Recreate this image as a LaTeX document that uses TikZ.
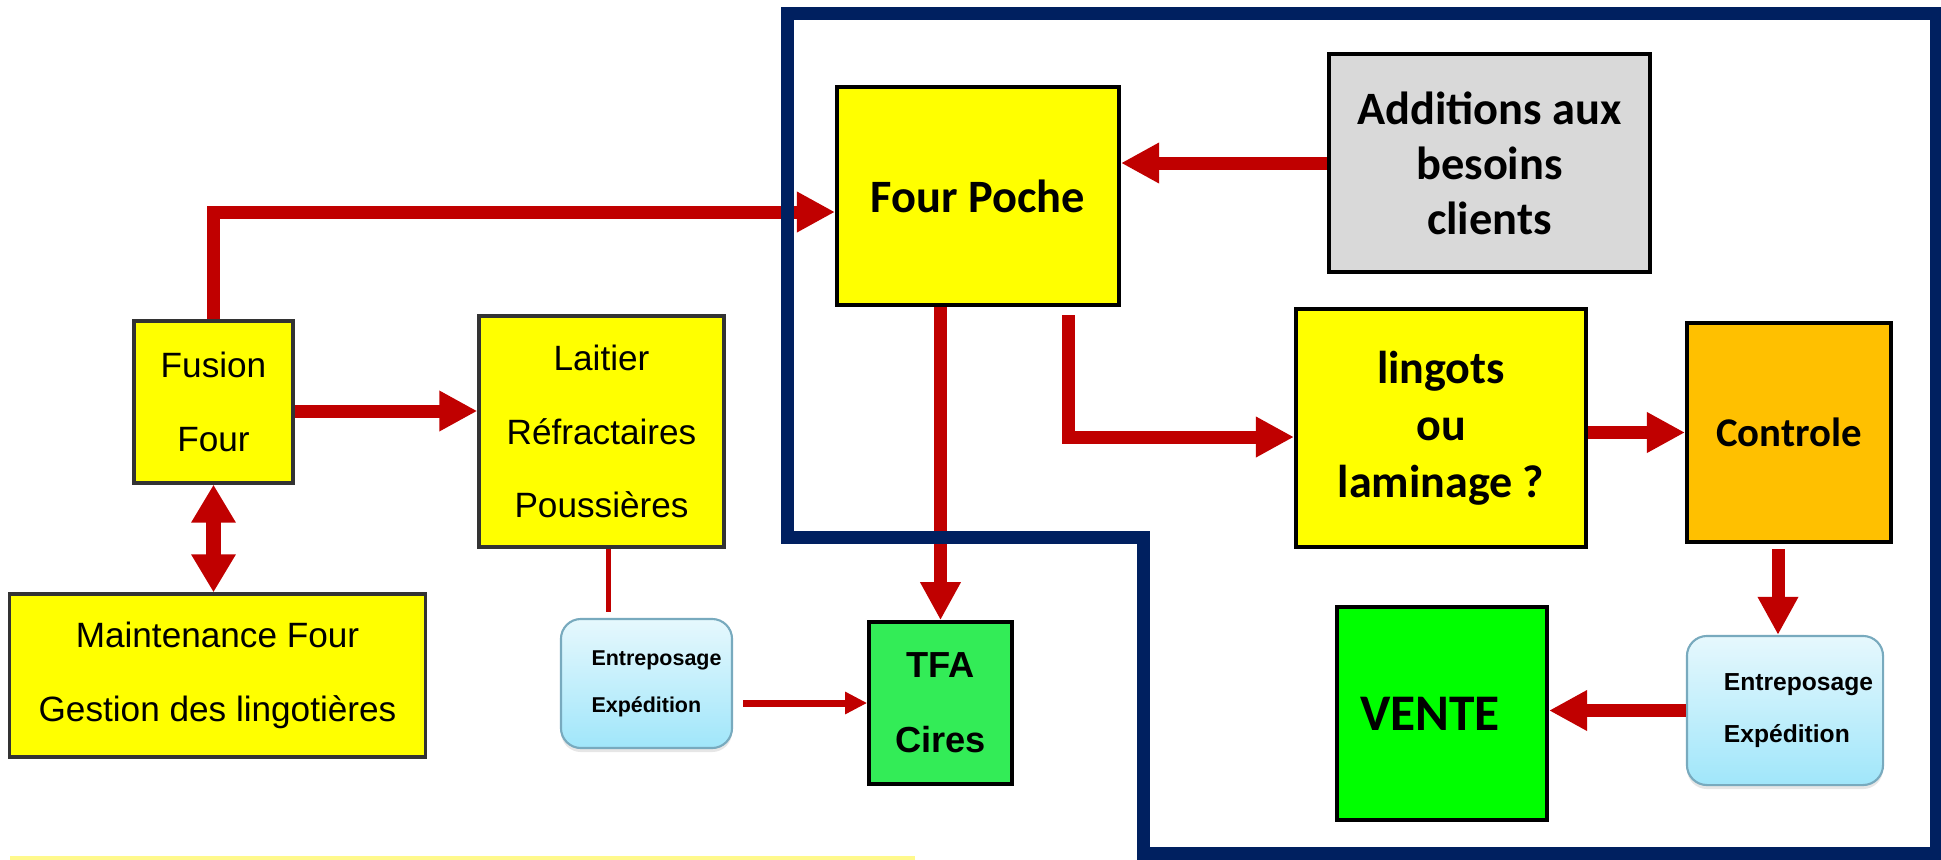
\documentclass[tikz,border=0pt]{standalone}
\usepackage{fontspec}
\setmainfont{Liberation Sans}
\newfontfamily\calib{Carlito}
\usetikzlibrary{arrows.meta,calc,shadows}
\definecolor{navyframe}{RGB}{0,32,96}
\definecolor{flowred}{RGB}{192,0,0}
\definecolor{boxyellow}{RGB}{255,255,0}
\definecolor{boxgrey}{RGB}{217,217,217}
\definecolor{boxorange}{RGB}{255,192,0}
\definecolor{ventegreen}{RGB}{0,255,0}
\definecolor{tfagreen}{RGB}{51,236,87}
\definecolor{storetop}{RGB}{230,248,253}
\definecolor{storebot}{RGB}{160,230,250}
\definecolor{storeline}{RGB}{120,170,190}

\begin{document}
\begin{tikzpicture}[x=0.01cm,y=-0.01cm,
	oldbox/.style={draw=black!80,line width=0.9pt,fill=boxyellow,align=center,inner sep=0pt,font=\fontsize{10}{21}\selectfont},
	newbox/.style={draw=black,line width=1.1pt,align=center,inner sep=0pt,font=\calib\bfseries\fontsize{13.2}{15.6}\selectfont},
	storebox/.style={draw=storeline,line width=0.6pt,rounded corners=0.2cm,top color=storetop,bottom color=storebot,align=left,inner sep=0pt,drop shadow={shadow xshift=0pt,shadow yshift=-0.04cm,opacity=0.2}},
	bigarrow/.style={color=flowred,line width=0.13cm,-{Triangle[length=0.38cm,width=0.38cm]}},
	dblarrow/.style={color=flowred,line width=0.15cm,{Triangle[length=0.38cm,width=0.42cm]}-{Triangle[length=0.38cm,width=0.42cm]}},
	thinarrow/.style={color=flowred,line width=0.07cm,-{Triangle[length=0.22cm,width=0.21cm]}}]
	\useasboundingbox (0,0) rectangle (1941,860);

	\node (fusion) [oldbox,minimum width=1.59cm,minimum height=1.62cm] at (213.5,402) {Fusion\\Four};
	\node (laitier) [oldbox,minimum width=2.45cm,minimum height=2.31cm] at (601.5,431.5) {Laitier\\Réfractaires\\Poussières};
	\node (maint) [oldbox,minimum width=4.15cm,minimum height=1.63cm] at (217.5,675.5) {Maintenance Four\\Gestion des lingotières};
	\node (entr1) [storebox,minimum width=1.71cm,minimum height=1.29cm,font=\bfseries\fontsize{6.1}{13.4}\selectfont] at (646.5,683.5) {\hspace*{0.2cm}Entreposage\\\hspace*{0.2cm}Expédition};
	\node (tfa) [draw=black,line width=1pt,fill=tfagreen,minimum width=1.43cm,minimum height=1.62cm,align=center,inner sep=0pt,font=\bfseries\fontsize{10.3}{21.3}\selectfont] at (940.5,703) {TFA\\Cires};

	\node (poche) [newbox,fill=boxyellow,minimum width=2.82cm,minimum height=2.18cm] at (978,196) {Four Poche};
	\node (additions) [newbox,fill=boxgrey,minimum width=3.21cm,minimum height=2.18cm] at (1489.5,163) {Additions aux\\besoins\\clients};
	\node (lingots) [newbox,fill=boxyellow,minimum width=2.9cm,minimum height=2.38cm,font=\calib\bfseries\fontsize{13.1}{16.2}\selectfont] at (1441,428) {lingots\\ou\\laminage ?};
	\node (controle) [newbox,fill=boxorange,minimum width=2.04cm,minimum height=2.19cm,font=\calib\bfseries\fontsize{11.6}{14}\selectfont] at (1789,432.5) {Controle};
	\node (entr2) [storebox,minimum width=1.96cm,minimum height=1.49cm,font=\bfseries\fontsize{7}{14.8}\selectfont] at (1785,710.5) {\hspace*{0.27cm}Entreposage\\\hspace*{0.27cm}Expédition};
	\node (vente) [newbox,fill=ventegreen,minimum width=2.1cm,minimum height=2.13cm,font=\calib\bfseries\fontsize{14.6}{17}\selectfont] at (1442,713.5) {VENTE\hspace*{0.24cm}};

	\draw[bigarrow] (fusion.north) |- ($(poche.west)+(0,16)$);
	\draw[bigarrow] ($(fusion.east)+(0,9)$) -- ($(laitier.west)+(0,-20.5)$);
	\draw[dblarrow] (fusion.south) -- (fusion.south |- maint.north);
	\draw[flowred,line width=0.055cm] ($(laitier.south)+(7,0)$) -- ($(entr1.north -| laitier.south)+(7,-6)$);
	\draw[thinarrow,shorten <=0.1cm] ($(entr1.east)+(0,19.5)$) -- (tfa.west);
	\draw[bigarrow] (poche.south -| tfa.north) -- (tfa.north);
	\draw[bigarrow] ($(poche.south)+(90,8)$) |- ($(lingots.west)+(0,9)$);
	\draw[bigarrow] (lingots.east |- controle.west) -- (controle.west);
	\draw[bigarrow] (additions.west) -- (additions.west -| poche.east);
	\draw[bigarrow] ($(controle.south)+(-11,5)$) -- ($(controle.south |- entr2.north)+(-11,0)$);
	\draw[bigarrow] (entr2.west) -- (entr2.west -| vente.east);

	\draw[navyframe,line width=0.13cm] (787,537) -- (787,13) -- (1936,13) -- (1936,853) -- (1143,853) -- (1143,537) -- cycle;
	\fill[yellow!45] (10,856) rectangle (915,860);
\end{tikzpicture}
\end{document}
